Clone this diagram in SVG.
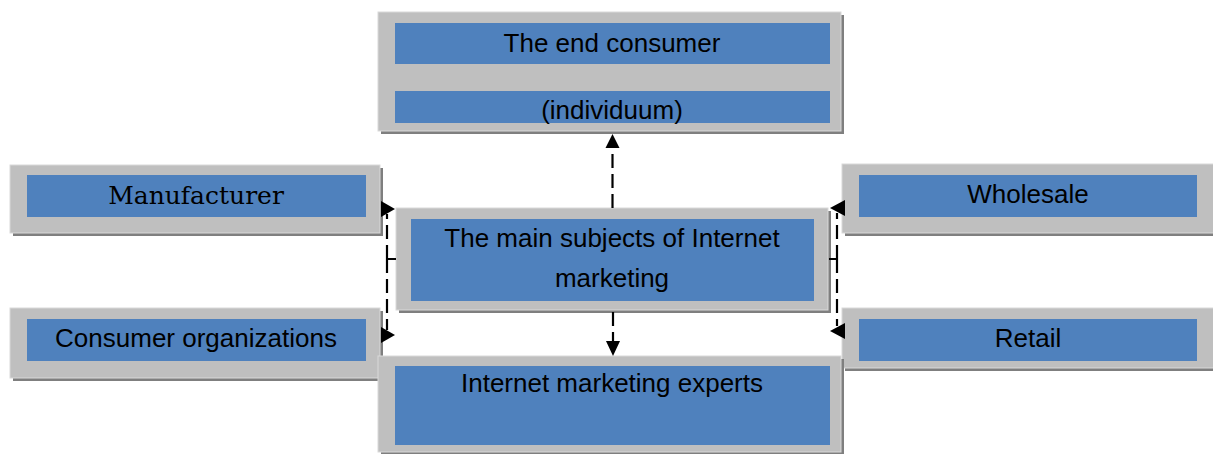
<svg xmlns="http://www.w3.org/2000/svg" width="1213" height="454" viewBox="0 0 1213 454">
<style>
.sh{fill:#7f7f7f}
.gr{fill:#bfbfbf;stroke:#d9d9d9;stroke-width:1}
.bl{fill:#4f81bd}
.t{font-family:"Liberation Sans",Arial,sans-serif;font-size:26px;fill:#000;text-anchor:middle}
.s{font-family:"DejaVu Serif",serif;font-size:25px;fill:#000;text-anchor:middle}
.dl{stroke:#000;stroke-width:2.2;fill:none;stroke-dasharray:14 6}
.sl{stroke:#000;stroke-width:2;fill:none}
.ah{fill:#000}
</style>
<rect width="1213" height="454" fill="#fff"/>
<g id="node-end-consumer">
<rect class="sh" x="381" y="15" width="463" height="119"/>
<rect class="gr" x="378" y="12" width="463" height="119"/>
<rect class="bl" x="395" y="23" width="435" height="41"/>
<rect class="bl" x="395" y="91" width="435" height="32"/>
<text class="t" x="612" y="52">The end consumer</text>
<text class="t" x="612" y="119">(individuum)</text>
</g>
<g id="node-manufacturer">
<rect class="sh" x="13" y="168" width="370" height="68"/>
<rect class="gr" x="10" y="165" width="370" height="68"/>
<rect class="bl" x="27" y="175" width="339" height="42"/>
<text class="s" x="196" y="204">Manufacturer</text>
</g>
<g id="node-consumer-organizations">
<rect class="sh" x="13" y="311" width="370" height="70"/>
<rect class="gr" x="10" y="308" width="370" height="70"/>
<rect class="bl" x="27" y="319" width="339" height="42"/>
<text class="t" x="196" y="347">Consumer organizations</text>
</g>
<g id="node-wholesale">
<rect class="sh" x="845" y="167" width="375" height="69"/>
<rect class="gr" x="842" y="164" width="375" height="69"/>
<rect class="bl" x="859" y="175" width="338" height="42"/>
<text class="t" x="1028" y="203">Wholesale</text>
</g>
<g id="node-retail">
<rect class="sh" x="845" y="311" width="375" height="60"/>
<rect class="gr" x="842" y="308" width="375" height="60"/>
<rect class="bl" x="859" y="319" width="338" height="42"/>
<text class="t" x="1028" y="347">Retail</text>
</g>
<g id="node-main">
<rect class="sh" x="399" y="211" width="432" height="102"/>
<rect class="gr" x="396" y="208" width="432" height="102"/>
<rect class="bl" x="411" y="219" width="403" height="82"/>
<text class="t" x="612" y="247">The main subjects of Internet</text>
<text class="t" x="612" y="287">marketing</text>
</g>
<g id="node-experts">
<rect class="sh" x="381" y="359" width="463" height="96"/>
<rect class="gr" x="378" y="356" width="463" height="96"/>
<rect class="bl" x="395" y="366" width="435" height="79"/>
<text class="t" x="612" y="392">Internet marketing experts</text>
</g>
<g id="connectors">
<path class="dl" d="M612.5,208 V147"/>
<polygon class="ah" points="605.5,148 612.5,134 619.5,148"/>
<path class="dl" d="M613,312 V341"/>
<polygon class="ah" points="606,341 613,356 620,341"/>
<path class="sl" d="M396,259 H387"/>
<path class="dl" d="M387,259 V214"/>
<path class="dl" d="M387,259 V330"/>
<polygon class="ah" points="381,201 395,209 381,217"/>
<polygon class="ah" points="381,327 395,335 381,343"/>
<path class="sl" d="M829,259 H838"/>
<path class="dl" d="M837,259 V213"/>
<path class="dl" d="M837,259 V326"/>
<polygon class="ah" points="845,200 830,208 845,216"/>
<polygon class="ah" points="845,323 830,331 845,339"/>
</g>
</svg>
